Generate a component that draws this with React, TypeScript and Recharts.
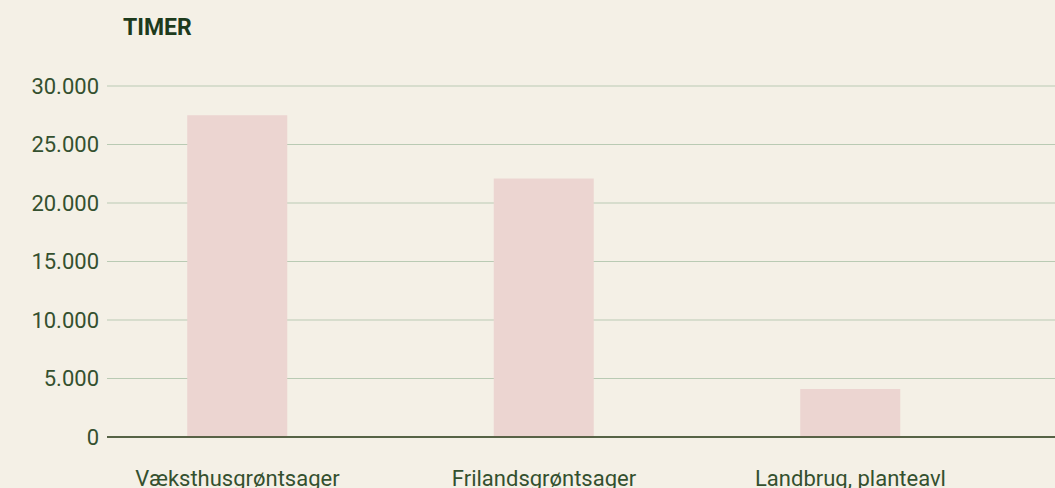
import { Bar, BarChart, CartesianGrid, XAxis, YAxis } from 'recharts'

const categories = ['Væksthusgrøntsager', 'Frilandsgrøntsager', 'Landbrug, planteavl']
const hours = [27500, 22100, 4100]
const yTicks = [0, 5000, 10000, 15000, 20000, 25000, 30000]

const data = categories.map((name, i) => ({ idx: i, name, timer: hours[i] }))

const fmt = (v: number) => new Intl.NumberFormat('da-DK').format(v)
const tickStyle = { fill: '#34502f', fontSize: 22, fontFamily: 'Roboto, sans-serif' }

export default function App() {
  return (
    <div style={{ position: 'relative', width: 1055, height: 488, background: '#f4f0e6', overflow: 'hidden' }}>
      <style>{'body{margin:0}'}</style>
      <div
        style={{
          position: 'absolute',
          left: 123,
          top: 14,
          fontFamily: 'Roboto, sans-serif',
          fontWeight: 700,
          fontSize: 23,
          color: '#1d3a1c',
          lineHeight: '28px',
        }}
      >
        TIMER
      </div>
      <BarChart width={1055} height={488} data={data} margin={{ top: 86, right: 0, left: 0, bottom: 0 }}>
        <CartesianGrid vertical={false} stroke="#b9cab3" strokeWidth={1.2} />
        <XAxis
          dataKey="idx"
          type="number"
          domain={[-0.4258, 2.6672]}
          allowDataOverflow
          ticks={[0, 1, 2]}
          tickFormatter={(i: number) => categories[i] ?? ''}
          tickLine={false}
          axisLine={{ stroke: '#2b3a18', strokeWidth: 1.5 }}
          tick={tickStyle}
          tickMargin={27}
          height={51}
          interval={0}
        />
        <YAxis
          domain={[0, 30000]}
          ticks={yTicks}
          tickFormatter={fmt}
          tickLine={false}
          axisLine={false}
          tick={tickStyle}
          width={107}
        />
        <Bar dataKey="timer" fill="#ecd5d1" barSize={100} isAnimationActive={false} />
      </BarChart>
    </div>
  )
}
